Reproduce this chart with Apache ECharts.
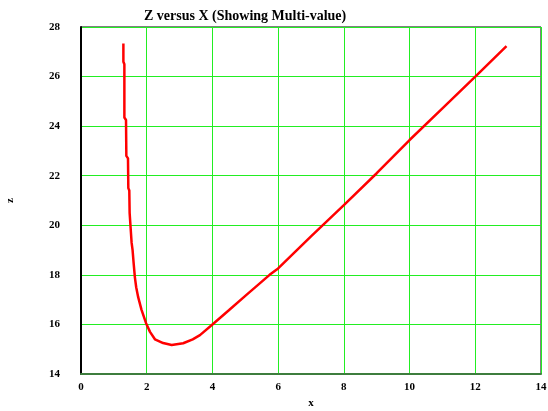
<!DOCTYPE html>
<html>
<head>
<meta charset="utf-8">
<script src="https://cdn.jsdelivr.net/npm/echarts@6/dist/echarts.min.js"></script>
<style>
  html, body { margin: 0; padding: 0; background: #fff; }
  #chart { width: 548px; height: 411px; }
</style>
</head>
<body>
<div id="chart"></div>
<script>
// x / z pairs (multi-valued curve, so kept in path order)
const xValues = [1.29, 1.29, 1.32, 1.32, 1.37, 1.38, 1.43, 1.44, 1.47, 1.48, 1.52, 1.54, 1.57, 1.60, 1.64, 1.68, 1.74, 1.84, 1.98, 2.10, 2.25, 2.50, 2.76, 3.11, 3.40, 3.62, 4.00, 4.50, 5.00, 5.74, 6.00, 7.00, 8.00, 9.00, 10.00, 11.00, 12.00, 12.95];
const zValues = [27.33, 26.60, 26.50, 24.35, 24.25, 22.80, 22.70, 21.50, 21.40, 20.50, 19.70, 19.30, 19.00, 18.50, 17.90, 17.50, 17.10, 16.60, 16.05, 15.70, 15.40, 15.25, 15.17, 15.24, 15.40, 15.57, 16.00, 16.57, 17.15, 18.00, 18.26, 19.55, 20.81, 22.10, 23.44, 24.72, 26.00, 27.23];
const xTicks = [0, 2, 4, 6, 8, 10, 12, 14];
const zTicks = [14, 16, 18, 20, 22, 24, 26, 28];

const points = xValues.map(function (x, i) {
    return [x, zValues[i]];
});

const font = 'Liberation Serif';
const labelStyle = {
    color: '#000',
    fontFamily: font,
    fontWeight: 'bold',
    fontSize: 11
};

const chart = echarts.init(document.getElementById('chart'));
chart.setOption({
    animation: false,
    backgroundColor: '#fff',
    title: {
        text: 'Z versus X (Showing Multi-value)',
        left: 139,
        top: 4,
        textStyle: {
            color: '#000',
            fontFamily: font,
            fontWeight: 'bold',
            fontSize: 14
        }
    },
    grid: {
        left: 81,
        right: 7,
        top: 27,
        bottom: 37,
        outerBoundsMode: 'none',
        containLabel: false,
        show: true,
        borderColor: '#000',
        borderWidth: 1
    },
    xAxis: {
        type: 'value',
        min: xTicks[0],
        max: xTicks[xTicks.length - 1],
        interval: 2,
        name: 'x',
        nameLocation: 'middle',
        nameGap: 24,
        nameTextStyle: labelStyle,
        axisLine: { show: true, lineStyle: { color: '#3d7d3d', width: 2 } },
        axisTick: { show: false },
        axisLabel: Object.assign({ margin: 8 }, labelStyle),
        splitLine: { show: true, lineStyle: { color: '#22ee22', width: 1 } }
    },
    yAxis: {
        type: 'value',
        min: zTicks[0],
        max: zTicks[zTicks.length - 1],
        interval: 2,
        name: 'z',
        nameLocation: 'middle',
        nameGap: 65,
        nameRotate: 90,
        nameTextStyle: labelStyle,
        axisLine: { show: true, lineStyle: { color: '#000', width: 2 } },
        axisTick: { show: false },
        axisLabel: Object.assign({ margin: 21 }, labelStyle),
        splitLine: { show: true, lineStyle: { color: '#22ee22', width: 1 } }
    },
    series: [{
        type: 'line',
        data: points,
        showSymbol: false,
        symbol: 'none',
        smooth: false,
        lineStyle: { color: '#ff0000', width: 2.5 }
    }]
});
</script>
</body>
</html>
